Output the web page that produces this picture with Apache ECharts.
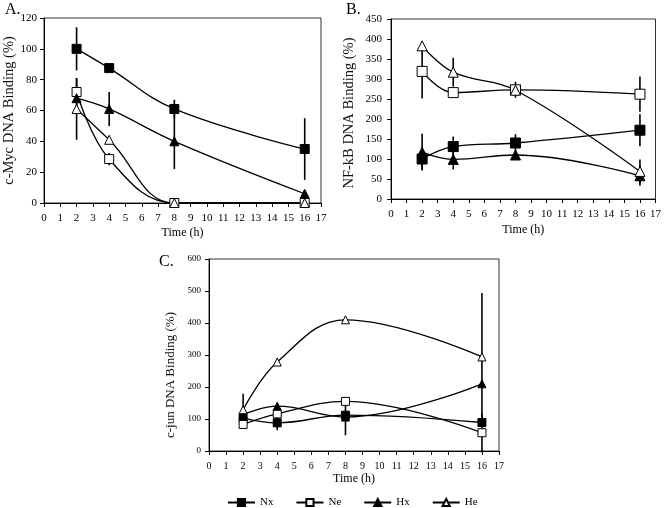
<!DOCTYPE html>
<html><head><meta charset="utf-8">
<script src="https://cdn.jsdelivr.net/npm/echarts@6/dist/echarts.min.js"></script>
<style>html,body{margin:0;padding:0;background:#fff}#c{width:664px;height:508px}</style>
</head><body><div id="c"></div>
<script>
const times = [2, 4, 8, 16];
const seriesNames = ['Nx', 'Ne', 'Hx', 'He'];
const xTicks = [0,1,2,3,4,5,6,7,8,9,10,11,12,13,14,15,16,17];

// Panel A: c-Myc
const mycNx = [100, 87.5, 61, 35];
const mycNe = [72, 28.5, 0, 0];
const mycHx = [68, 61, 40, 6];
const mycHe = [61, 41, 0, 0];
const mycNxErr = [14, 0, 6, 20];
const mycNeErr = [9, 4, 0, 0];
const mycHxErr = [0, 11, 18, 0];
const mycHeErr = [20, 0, 0, 0];

// Panel B: NF-kB
const nfkbNx = [100, 131, 140, 172];
const nfkbNe = [319, 266, 273, 262];
const nfkbHx = [117, 99, 110, 58];
const nfkbHe = [383, 317, 272, 69];
const nfkbNxErr = [27, 25, 22, 40];
const nfkbNeErr = [68, 0, 20, 44];
const nfkbHxErr = [46, 25, 0, 25];
const nfkbHeErr = [0, 36, 0, 30];

// Panel C: c-jun
const jun_Nx = [103, 88, 112, 89];
const jun_Ne = [83, 116, 155, 57];
const jun_Hx = [114, 140, 106, 210];
const jun_He = [129, 278, 410, 294];
const jun_NxErr = [0, 23, 0, 0];
const jun_NeErr = [0, 0, 0, 62];
const jun_HxErr = [0, 0, 57, 0];
const jun_HeErr = [50, 0, 0, 200];

const FONT = 'Liberation Serif';
const panels = [
  {grid:{left:44, top:18, width:277, height:185}, yMax:120, yInt:20, yName:'c-Myc DNA Binding (%)',
   nameGap:27, nameFs:14.5, namePad:[0,0,0,0], xGap:24, fs:11, yFs:11, yMargin:7, sym:9,
   vals:[mycNx,mycNe,mycHx,mycHe], errs:[mycNxErr,mycNeErr,mycHxErr,mycHeErr]},
  {grid:{left:391, top:19, width:267, height:180}, yMax:450, yInt:50, yName:'NF-kB DNA Binding (%)',
   nameGap:34, nameFs:14.5, namePad:[0,8,0,0], xGap:25, fs:11, yFs:11, yMargin:9, sym:10,
   vals:[nfkbNx,nfkbNe,nfkbHx,nfkbHe], errs:[nfkbNxErr,nfkbNeErr,nfkbHxErr,nfkbHeErr]},
  {grid:{left:209, top:259, width:290, height:192}, yMax:600, yInt:100, yName:'c-jun DNA Binding (%)',
   nameGap:32, nameFs:13, namePad:[0,40,0,0], xGap:22, fs:10, yFs:9, yMargin:8, sym:8,
   vals:[jun_Nx,jun_Ne,jun_Hx,jun_He], errs:[jun_NxErr,jun_NeErr,jun_HxErr,jun_HeErr]}
];

const markers = [
  {symbol:'rect', fill:'#000'},
  {symbol:'rect', fill:'#fff'},
  {symbol:'triangle', fill:'#000'},
  {symbol:'triangle', fill:'#fff'}
];

const grids = [], xAxes = [], yAxes = [], series = [];
panels.forEach((p, i) => {
  grids.push(Object.assign({show:true, borderColor:'#333', borderWidth:1, backgroundColor:'transparent'}, p.grid));
  xAxes.push({type:'value', gridIndex:i, min:0, max:17, interval:1,
    name:'Time (h)', nameLocation:'middle', nameGap:p.xGap,
    nameTextStyle:{fontFamily:FONT, fontSize:12, color:'#000'},
    axisLine:{lineStyle:{color:'#000', width:1}},
    axisTick:{length:4, lineStyle:{color:'#000'}},
    axisLabel:{fontFamily:FONT, fontSize:p.fs, color:'#000', margin:10,
      formatter: v => xTicks.indexOf(v) >= 0 ? String(v) : ''},
    splitLine:{show:false}});
  yAxes.push({type:'value', gridIndex:i, min:0, max:p.yMax, interval:p.yInt,
    name:p.yName, nameLocation:'middle', nameGap:p.nameGap,
    nameTextStyle:{fontFamily:FONT, fontSize:p.nameFs, color:'#111', padding:p.namePad},
    axisLine:{show:true, lineStyle:{color:'#000', width:1}},
    axisTick:{show:true, length:4, lineStyle:{color:'#000'}},
    axisLabel:{fontFamily:FONT, fontSize:p.yFs, color:'#000', margin:p.yMargin},
    splitLine:{show:false}});
  // error bars
  const errData = [];
  p.vals.forEach((arr, s) => {
    arr.forEach((v, k) => { if (p.errs[s][k] > 0) errData.push([times[k], v, p.errs[s][k]]); });
  });
  series.push({type:'custom', xAxisIndex:i, yAxisIndex:i, z:1, silent:true,
    data: errData,
    renderItem: (params, api) => {
      const x = api.value(0), y = api.value(1), e = api.value(2);
      const top = api.coord([x, y + e]);
      const bot = api.coord([x, y - e]);
      return {type:'line', shape:{x1:top[0], y1:top[1], x2:bot[0], y2:bot[1]},
        style:{stroke:'#000', lineWidth:1.6}};
    }});
  p.vals.forEach((arr, s) => {
    series.push({type:'line', name:seriesNames[s], xAxisIndex:i, yAxisIndex:i, z:3,
      data: arr.map((v, k) => [times[k], v]),
      smooth:0.4, symbol:markers[s].symbol, symbolSize: p.sym,
      lineStyle:{color:'#000', width:1.3},
      itemStyle:{color:markers[s].fill, borderColor:'#000', borderWidth:1},
      emphasis:{disabled:true}, animation:false});
  });
});

const chart = echarts.init(document.getElementById('c'), null, {renderer:'canvas'});
chart.setOption({
  animation:false,
  backgroundColor:'#fff',
  title:[
    {text:'A.', left:0, top:-3, textStyle:{fontFamily:FONT, fontSize:16, fontWeight:'normal', color:'#000'}},
    {text:'B.', left:341, top:-3, textStyle:{fontFamily:FONT, fontSize:16, fontWeight:'normal', color:'#000'}},
    {text:'C.', left:154, top:249, textStyle:{fontFamily:FONT, fontSize:16, fontWeight:'normal', color:'#000'}}
  ],
  legend:{data:seriesNames, left:222, top:492, itemWidth:27, itemHeight:9, itemGap:22,
    textStyle:{fontFamily:FONT, fontSize:11, color:'#000'}},
  grid:grids, xAxis:xAxes, yAxis:yAxes, series:series
});
</script></body></html>
